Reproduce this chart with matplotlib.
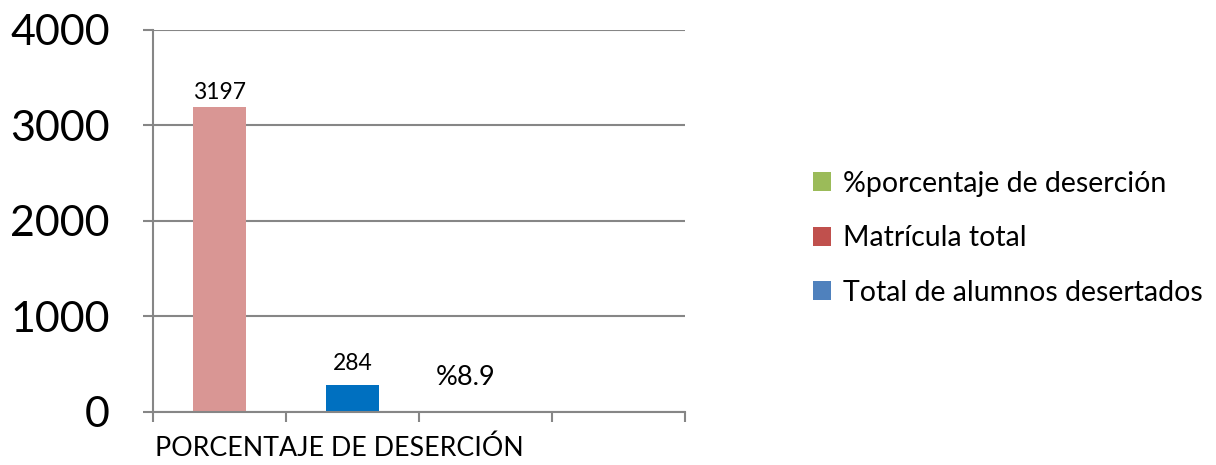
import matplotlib
matplotlib.use("Agg")
import matplotlib.pyplot as plt
from matplotlib.patches import Patch

plt.rcParams["font.family"] = ["Lato", "DejaVu Sans"]

# data
series_names = ["%porcentaje de deserción", "Matrícula total", "Total de alumnos desertados"]
legend_colors = ["#9BBB59", "#C0504D", "#4F81BD"]
bar_values = [3197, 284, 8.9]
bar_labels = ["3197", "284", "%8.9"]
bar_colors = ["#D99694", "#0070C0", "#9BBB59"]
bar_slots = [0.5, 1.5, 2.5]
category = "PORCENTAJE DE DESERCIÓN"
yticks = [0, 1000, 2000, 3000, 4000]

fig = plt.figure(figsize=(12.16, 4.65), dpi=100)
ax = fig.add_axes([0.1258, 0.114, 0.4375, 0.8215])

ax.bar(bar_slots, bar_values, width=0.4, color=bar_colors, zorder=2)

# label placement tweaks (points) and sizes, as in the source chart
label_offsets = [(0, 3), (0, 8), (-14.5, 15)]
label_sizes = [16.5, 16.5, 19.5]
for x, v, lab, off, fs in zip(bar_slots, bar_values, bar_labels, label_offsets, label_sizes):
    ax.annotate(lab, (x, v), xytext=off, textcoords="offset points",
                ha="center", va="bottom", fontsize=fs, color="black")

ax.set_xlim(0, 4)
ax.set_ylim(0, 4000)
ax.set_yticks(yticks)
ax.set_xticks([0, 1, 2, 3, 4])
ax.set_xticklabels([])
ax.grid(axis="y", color="#868686", linewidth=1.5, zorder=0)
for side in ["top", "right"]:
    ax.spines[side].set_visible(False)
for side in ["left", "bottom"]:
    ax.spines[side].set_color("#868686")
    ax.spines[side].set_linewidth(1.5)
ax.tick_params(axis="y", length=7, width=1.5, color="#868686", labelsize=31, pad=24)
ax.tick_params(axis="x", length=7, width=1.5, color="#868686")

fig.text(155 / 1216, 1 - 448 / 465, category, ha="left", va="center", fontsize=19.3)

handles = [Patch(facecolor=c, edgecolor="none") for c in legend_colors]
fig.legend(handles, series_names, loc="center left", bbox_to_anchor=(0.659, 0.488),
           frameon=False, fontsize=20.5, handlelength=0.65, handleheight=0.65,
           handletextpad=0.4, labelspacing=1.0, borderaxespad=0)

fig.savefig("out.png", dpi=100)
